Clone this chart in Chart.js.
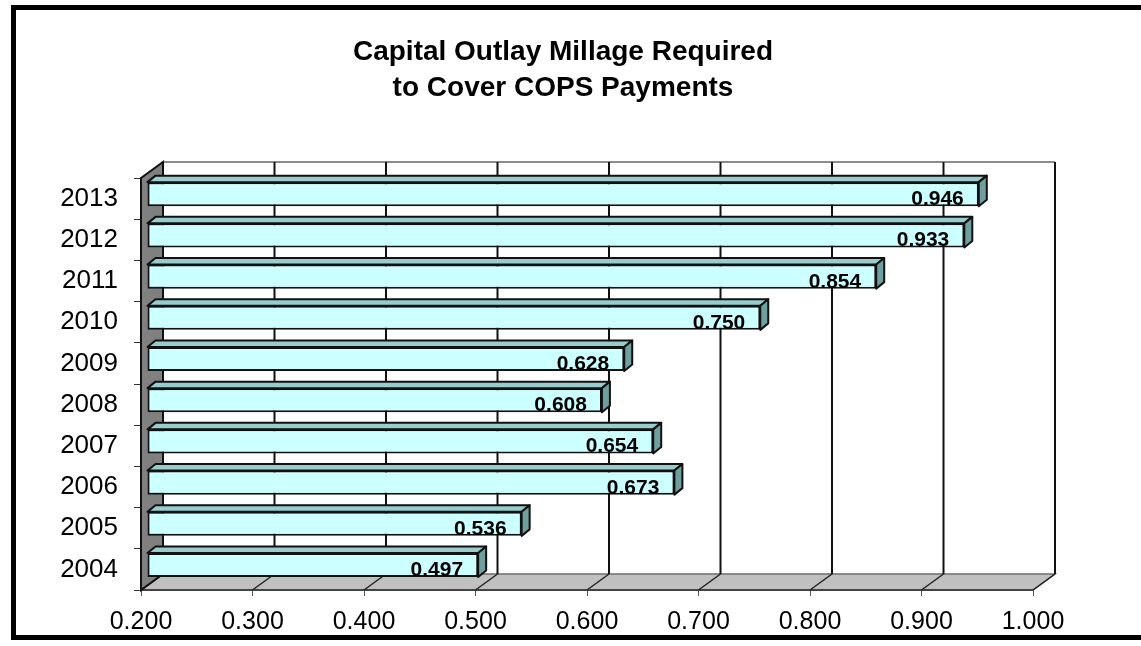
<!DOCTYPE html>
<html>
<head>
<meta charset="utf-8">
<script src="https://cdn.jsdelivr.net/npm/chart.js@4.4.1/dist/chart.umd.min.js"></script>
<style>
  html, body { margin: 0; padding: 0; background: #fff; }
  canvas { display: block; }
</style>
</head>
<body>
<canvas id="chart" width="1141" height="646"></canvas>
<script>
// Fiscal years and millage needed for the COPS payments
const years = ['2004', '2005', '2006', '2007', '2008', '2009', '2010', '2011', '2012', '2013'];
const millage = [0.497, 0.536, 0.673, 0.654, 0.608, 0.628, 0.750, 0.854, 0.933, 0.946];
const axisMin = 0.2;
const axisMax = 1.0;
const axisStep = 0.1;
const titleLines = ['Capital Outlay Millage Required', 'to Cover COPS Payments'];

const FONT = "'Liberation Sans', Arial, Helvetica, sans-serif";

// Oblique projection used for the pseudo-3D look
const WALL = { dx: 22, dy: -16 };      // depth of side wall / floor
const BAR_FRONT = { dx: 6, dy: -4.4 }; // bars sit a little behind the front plane
const BAR_DEPTH = { dx: 8, dy: -6.5 }; // thickness of each bar

const tickValues = [];
for (let i = 0; i <= Math.round((axisMax - axisMin) / axisStep); i++) {
  tickValues.push(+(axisMin + i * axisStep).toFixed(3));
}

// Walls, floor and back-wall grid
const walls = {
  id: 'walls',
  beforeDatasetsDraw(chart) {
    const { ctx, chartArea: a, scales: { x } } = chart;
    const L = a.left, R = a.right, T = a.top, B = a.bottom;
    ctx.save();
    // back wall
    ctx.fillStyle = '#ffffff';
    ctx.fillRect(L + WALL.dx, T + WALL.dy, R - L, B - T);
    ctx.strokeStyle = '#8c8c8c';
    ctx.lineWidth = 2;
    ctx.beginPath();
    ctx.moveTo(L + WALL.dx, T + WALL.dy);
    ctx.lineTo(R + WALL.dx, T + WALL.dy);
    ctx.stroke();

    // floor
    ctx.beginPath();
    ctx.moveTo(L, B);
    ctx.lineTo(R, B);
    ctx.lineTo(R + WALL.dx, B + WALL.dy);
    ctx.lineTo(L + WALL.dx, B + WALL.dy);
    ctx.closePath();
    ctx.fillStyle = '#c0c0c0';
    ctx.fill();
    ctx.strokeStyle = '#6e6e6e';
    ctx.lineWidth = 1.5;
    ctx.stroke();
    ctx.strokeStyle = '#444';
    ctx.lineWidth = 2;
    ctx.beginPath();
    ctx.moveTo(L, B);
    ctx.lineTo(R, B);
    ctx.stroke();

    // vertical grid on the back wall + diagonals across the floor
    tickValues.forEach(v => {
      const px = x.getPixelForValue(v);
      ctx.strokeStyle = '#111';
      ctx.lineWidth = 2;
      ctx.beginPath();
      ctx.moveTo(px + WALL.dx, T + WALL.dy);
      ctx.lineTo(px + WALL.dx, B + WALL.dy);
      ctx.stroke();
      ctx.strokeStyle = '#222';
      ctx.lineWidth = 1.5;
      ctx.beginPath();
      ctx.moveTo(px + WALL.dx, B + WALL.dy);
      ctx.lineTo(px, B);
      ctx.stroke();
    });

    // left side wall
    ctx.beginPath();
    ctx.moveTo(L, T);
    ctx.lineTo(L + WALL.dx, T + WALL.dy);
    ctx.lineTo(L + WALL.dx, B + WALL.dy);
    ctx.lineTo(L, B);
    ctx.closePath();
    ctx.fillStyle = '#808080';
    ctx.fill();
    ctx.strokeStyle = '#111';
    ctx.lineWidth = 2;
    ctx.stroke();
    ctx.restore();
  },
  beforeDatasetDraw(chart) {
    chart.ctx.save();
    chart.ctx.translate(BAR_FRONT.dx, BAR_FRONT.dy);
  },
  afterDatasetDraw(chart, args) {
    const { ctx } = chart;
    const meta = args.meta;
    const ds = chart.data.datasets[args.index];
    meta.data.forEach((bar, i) => {
      const p = bar.getProps(['x', 'y', 'base', 'height'], true);
      const left = Math.min(p.base, p.x), right = Math.max(p.base, p.x);
      const top = p.y - p.height / 2, bottom = p.y + p.height / 2;
      ctx.lineWidth = 2;
      ctx.strokeStyle = '#111';
      ctx.lineJoin = 'round';
      // top face
      ctx.beginPath();
      ctx.moveTo(left, top);
      ctx.lineTo(right, top);
      ctx.lineTo(right + BAR_DEPTH.dx, top + BAR_DEPTH.dy);
      ctx.lineTo(left + BAR_DEPTH.dx, top + BAR_DEPTH.dy);
      ctx.closePath();
      ctx.fillStyle = '#99cccc';
      ctx.fill();
      ctx.stroke();
      // end face
      ctx.beginPath();
      ctx.moveTo(right, top);
      ctx.lineTo(right + BAR_DEPTH.dx, top + BAR_DEPTH.dy);
      ctx.lineTo(right + BAR_DEPTH.dx, bottom + BAR_DEPTH.dy);
      ctx.lineTo(right, bottom);
      ctx.closePath();
      ctx.fillStyle = '#6f9f9f';
      ctx.fill();
      ctx.stroke();
      // value label
      ctx.fillStyle = '#000';
      ctx.font = 'bold 21px ' + FONT;
      ctx.textAlign = 'right';
      ctx.textBaseline = 'alphabetic';
      ctx.fillText(ds.data[i].toFixed(3), right - 15, bottom - 1);
    });
    ctx.restore();
  },
  afterDraw(chart) {
    // outer frame
    const { ctx } = chart;
    ctx.save();
    ctx.strokeStyle = '#000';
    ctx.lineWidth = 5;
    ctx.strokeRect(13.5, 7.5, 1300, 630);
    ctx.restore();
  }
};

new Chart(document.getElementById('chart'), {
  type: 'bar',
  data: {
    labels: years,
    datasets: [{
      data: millage,
      base: axisMin,
      backgroundColor: '#ccffff',
      borderColor: '#111',
      borderWidth: 2,
      borderSkipped: false,
      barPercentage: 0.585,
      categoryPercentage: 1
    }]
  },
  options: {
    indexAxis: 'y',
    responsive: false,
    maintainAspectRatio: false,
    animation: false,
    devicePixelRatio: 1,
    layout: { padding: { left: 0, right: 15, top: 0, bottom: 0 } },
    plugins: {
      legend: { display: false },
      tooltip: { enabled: false },
      title: {
        display: true,
        text: titleLines,
        color: '#000',
        font: { family: FONT, size: 28, weight: 'bold', lineHeight: '36px' },
        padding: { top: 34, bottom: 72 }
      }
    },
    scales: {
      x: {
        type: 'linear',
        min: axisMin,
        max: axisMax,
        afterFit(scale) { scale.height = 56; },
        afterBuildTicks(scale) { scale.ticks = tickValues.map(v => ({ value: v })); },
        ticks: {
          color: '#000',
          font: { family: FONT, size: 25, lineHeight: 1.2 },
          padding: 11,
          maxRotation: 0,
          autoSkip: false,
          callback: v => Number(v).toFixed(3)
        },
        grid: { drawOnChartArea: false, drawTicks: true, tickLength: 6, color: '#555', lineWidth: 1 },
        border: { display: false }
      },
      y: {
        type: 'category',
        reverse: true,
        afterFit(scale) { scale.width = 141; },
        ticks: {
          color: '#000',
          font: { family: FONT, size: 26, lineHeight: 1.2 },
          padding: 16
        },
        grid: { drawOnChartArea: false, drawTicks: true, tickLength: 7, color: '#333', lineWidth: 1, offset: true },
        border: { display: false }
      },
      // empty margin on the right of the plot
      yMargin: {
        type: 'category',
        axis: 'y',
        position: 'right',
        display: true,
        afterFit(scale) { scale.width = 93; },
        ticks: { display: false },
        grid: { display: false, drawTicks: false },
        border: { display: false }
      }
    }
  },
  plugins: [walls]
});
</script>
</body>
</html>
